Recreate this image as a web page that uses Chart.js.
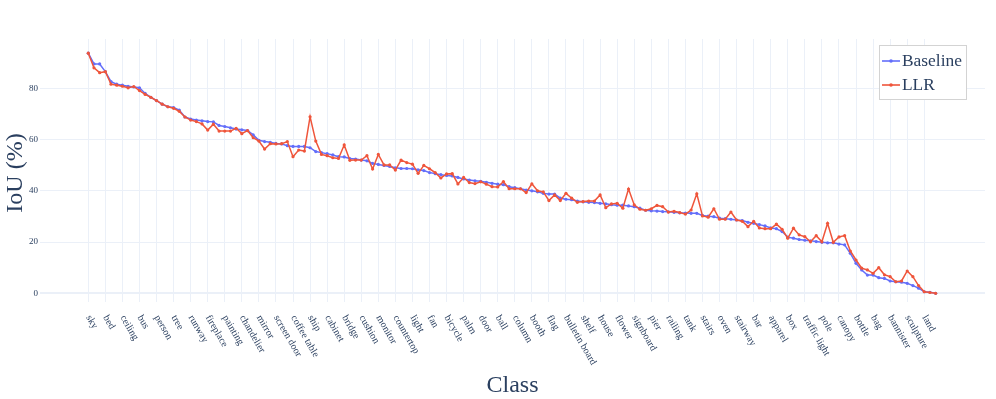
<!DOCTYPE html>
<html lang="en">
<head>
  <meta charset="UTF-8" />
  <title>IoU per class - Baseline vs LLR</title>
  <script src="https://cdn.jsdelivr.net/npm/chart.js"></script>
  <style>
    body { margin: 0; background: #fff; }
    #wrap { width: 996px; height: 399px; }
  </style>
</head>
<body>
  <div id="wrap"><canvas id="iouChart" width="996" height="399"></canvas></div>

  <script>
    // every third class gets a tick label
    const tickStep = 3;
    const tickLabels = [
      "sky", "bed", "ceiling", "bus", "person", "tree", "runway", "fireplace", "painting", "chandelier",
      "mirror", "screen door", "coffee table", "ship", "cabinet", "bridge", "cushion", "monitor", "countertop", "light",
      "fan", "bicycle", "palm", "door", "ball", "column", "booth", "flag", "bulletin board", "shelf",
      "house", "flower", "signboard", "pier", "railing", "tank", "stairs", "oven", "stairway", "bar",
      "apparel", "box", "traffic light", "pole", "canopy", "bottle", "bag", "bannister", "sculpture", "land"
    ];
    const yTicks = [0, 20, 40, 60, 80];

    const baseline = [
      93.7, 89.5, 89.5, 86.5, 82.6, 81.6, 81.2, 80.8, 80.5, 80.2,
      78.0, 76.5, 75.2, 73.8, 72.8, 72.5, 71.5, 68.8, 68.0, 67.6,
      67.3, 67.0, 66.9, 65.5, 65.1, 64.6, 64.1, 63.8, 63.5, 61.8,
      59.7, 59.2, 58.9, 58.5, 58.3, 57.6, 57.3, 57.3, 57.3, 56.8,
      55.3, 54.9, 54.5, 54.0, 53.3, 53.2, 52.6, 52.4, 52.0, 51.7,
      50.7, 50.3, 49.9, 49.5, 49.0, 48.7, 48.7, 48.6, 48.2, 47.9,
      47.1, 46.7, 46.3, 46.0, 45.8, 45.2, 44.6, 44.2, 43.9, 43.7,
      43.3, 42.9, 42.6, 42.4, 41.6, 41.2, 40.8, 40.3, 40.0, 39.6,
      39.0, 38.7, 38.7, 37.1, 36.7, 36.5, 36.0, 35.7, 35.5, 35.4,
      35.1, 34.9, 34.6, 34.4, 34.4, 34.1, 33.8, 33.2, 32.4, 32.2,
      32.1, 31.9, 31.8, 31.6, 31.4, 31.3, 31.2, 31.2, 30.4, 30.1,
      29.9, 29.3, 29.1, 28.9, 28.6, 28.4, 27.7, 27.3, 26.8, 26.3,
      25.5, 25.2, 24.1, 21.9, 21.5, 21.0, 20.7, 20.5, 20.2, 19.9,
      19.7, 19.7, 19.2, 18.9, 15.6, 11.7, 9.1, 7.1, 7.1, 6.1,
      5.8, 4.8, 4.5, 4.3, 3.9, 3.0, 2.0, 0.6, 0.4, 0.0
    ];
    const llr = [
      93.7, 88.0, 86.1, 86.5, 81.6, 81.2, 80.8, 80.2, 80.7, 79.1,
      77.6, 76.5, 75.2, 73.8, 72.8, 72.2, 71.0, 68.8, 67.6, 67.0,
      66.1, 63.7, 66.0, 63.3, 63.3, 63.3, 64.4, 62.3, 63.5, 60.7,
      59.4, 56.3, 58.4, 58.3, 58.4, 59.2, 53.3, 55.9, 55.5, 68.9,
      59.4, 54.2, 53.7, 52.9, 52.6, 57.9, 51.9, 52.0, 52.0, 53.7,
      48.5, 54.2, 50.1, 50.1, 48.1, 52.0, 51.0, 50.4, 46.8, 49.9,
      48.6, 47.1, 45.0, 46.6, 46.7, 42.7, 45.2, 43.2, 42.8, 43.5,
      42.6, 41.6, 41.5, 43.6, 40.8, 40.8, 40.8, 39.3, 42.7, 40.0,
      39.6, 36.2, 38.4, 36.2, 39.0, 37.1, 35.5, 35.8, 36.0, 36.0,
      38.4, 33.4, 34.9, 35.1, 33.2, 40.7, 34.5, 32.8, 32.4, 33.0,
      34.3, 33.8, 31.7, 32.0, 31.5, 30.9, 32.5, 38.8, 30.2, 29.7,
      33.0, 28.9, 28.9, 31.7, 28.6, 28.1, 26.0, 28.1, 25.5, 25.2,
      25.2, 27.0, 25.0, 21.5, 25.4, 22.8, 22.1, 20.1, 22.5, 20.1,
      27.3, 19.9, 22.0, 22.5, 16.5, 13.0, 9.8, 9.1, 7.8, 10.0,
      7.2, 6.5, 4.5, 4.8, 8.7, 6.5, 3.0, 0.6, 0.3, 0.0
    ];

    const BLUE = '#636efa';
    const RED = '#EF553B';
    const TEXT = '#2a3f5f';
    const GRID = '#EBF0F8';
    const SERIF = '"Liberation Serif", "Times New Roman", serif';

    const toPoints = arr => arr.map((v, i) => ({ x: i, y: v }));

    // rotated tick labels, axis titles and the boxed legend
    const extras = {
      id: 'extras',
      afterDraw(chart) {
        const { ctx, chartArea, scales } = chart;
        const x = scales.x;
        ctx.save();
        ctx.fillStyle = TEXT;

        ctx.font = '10px ' + SERIF;
        ctx.textAlign = 'left';
        ctx.textBaseline = 'middle';
        tickLabels.forEach((name, k) => {
          const px = x.getPixelForValue(k * tickStep);
          ctx.save();
          ctx.translate(px, chartArea.bottom + 14);
          ctx.rotate(Math.PI / 3);
          ctx.fillText(name, 0, 0);
          ctx.restore();
        });

        ctx.font = '24px ' + SERIF;
        ctx.textAlign = 'center';
        ctx.textBaseline = 'alphabetic';
        ctx.fillText('Class', (chartArea.left + chartArea.right) / 2, 392);
        ctx.save();
        ctx.translate(22, 173);
        ctx.rotate(-Math.PI / 2);
        ctx.fillText('IoU (%)', 0, 0);
        ctx.restore();

        // legend
        ctx.fillStyle = '#fff';
        ctx.fillRect(879, 45, 87, 54);
        ctx.strokeStyle = '#d3d3d3';
        ctx.lineWidth = 1;
        ctx.strokeRect(879.5, 45.5, 87, 54);
        const items = [['Baseline', BLUE, 61], ['LLR', RED, 85]];
        ctx.font = '17.4px ' + SERIF;
        ctx.textAlign = 'left';
        ctx.textBaseline = 'middle';
        items.forEach(([label, color, y]) => {
          ctx.strokeStyle = color;
          ctx.lineWidth = 1.6;
          ctx.beginPath();
          ctx.moveTo(882, y);
          ctx.lineTo(900, y);
          ctx.stroke();
          ctx.fillStyle = color;
          ctx.beginPath();
          ctx.arc(891, y, 1.8, 0, Math.PI * 2);
          ctx.fill();
          ctx.fillStyle = TEXT;
          ctx.fillText(label, 902, y);
        });
        ctx.restore();
      }
    };

    new Chart(document.getElementById('iouChart'), {
      type: 'line',
      data: {
        datasets: [
          {
            label: 'Baseline',
            data: toPoints(baseline),
            borderColor: BLUE,
            backgroundColor: BLUE,
            borderWidth: 1.5,
            pointRadius: 1.6,
            pointBorderWidth: 0,
            tension: 0,
            order: 1
          },
          {
            label: 'LLR',
            data: toPoints(llr),
            borderColor: RED,
            backgroundColor: RED,
            borderWidth: 1.5,
            pointRadius: 1.6,
            pointBorderWidth: 0,
            tension: 0,
            order: 0
          }
        ]
      },
      options: {
        responsive: false,
        animation: false,
        devicePixelRatio: 1,
        layout: { padding: { top: 39, right: 11, left: 0, bottom: 0 } },
        plugins: { legend: { display: false }, tooltip: { enabled: false } },
        scales: {
          x: {
            type: 'linear',
            min: -8.49,
            max: 157.68,
            border: { display: false },
            grid: { color: GRID, drawTicks: false },
            ticks: { display: false },
            afterBuildTicks: s => { s.ticks = tickLabels.map((_, k) => ({ value: k * tickStep })); },
            afterFit: s => { s.height = 97; }
          },
          y: {
            min: -3.4,
            max: 99.24,
            border: { display: false },
            grid: {
              color: GRID,
              drawTicks: false,
              lineWidth: c => (c.tick && c.tick.value === 0 ? 2 : 1)
            },
            ticks: { padding: 2, color: TEXT, font: { family: SERIF, size: 9 } },
            afterBuildTicks: s => { s.ticks = yTicks.map(v => ({ value: v })); },
            afterFit: s => { s.width = 40; }
          }
        }
      },
      plugins: [extras]
    });
  </script>
</body>
</html>
